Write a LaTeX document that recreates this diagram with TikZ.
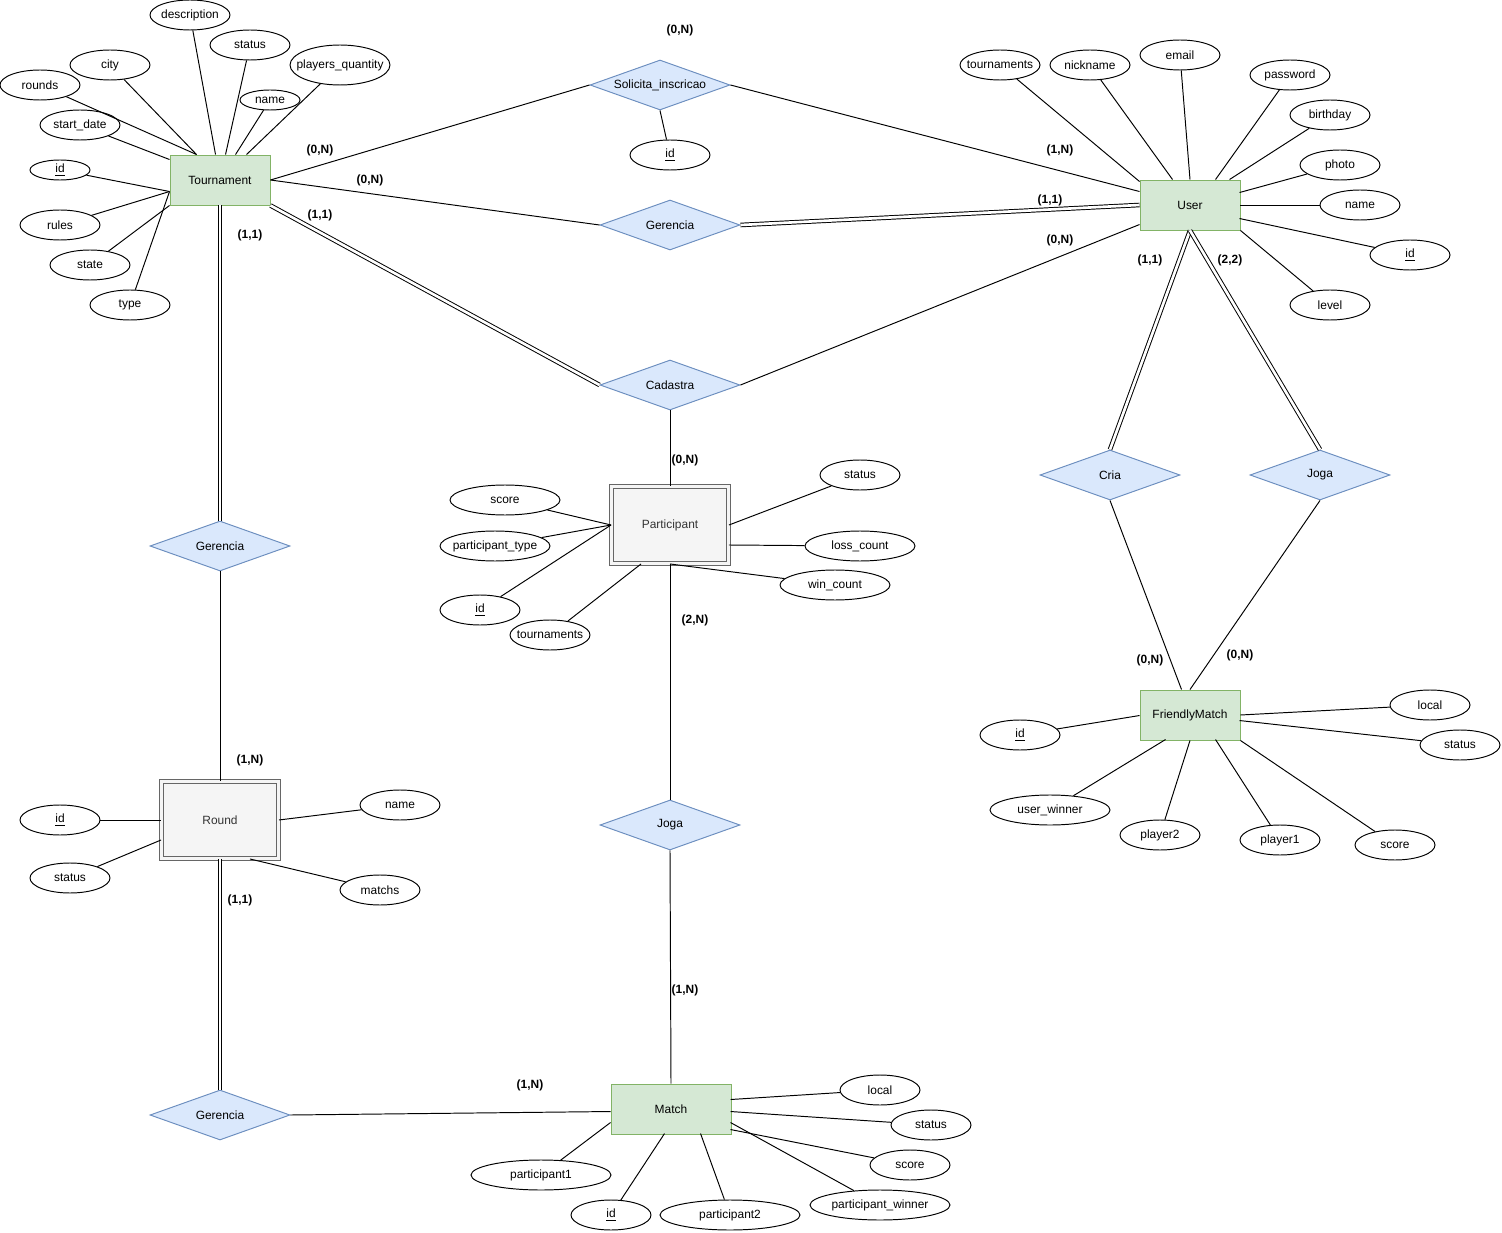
\documentclass[tikz,border=0pt]{standalone}
\usepackage{fontspec}
\setmainfont{Liberation Sans}
\usepackage{tikz}
\usetikzlibrary{shapes.geometric, calc}
\definecolor{entgreen}{HTML}{D5E8D4}
\definecolor{entline}{HTML}{82B366}
\definecolor{relblue}{HTML}{DAE8FC}
\definecolor{relline}{HTML}{6C8EBF}
\definecolor{weakgray}{HTML}{F5F5F5}
\definecolor{weakline}{HTML}{666666}
\definecolor{weaktext}{HTML}{333333}

\begin{document}
\begin{tikzpicture}[x=0.02cm, y=-0.02cm, line width=0.55pt,
			every node/.style={font=\fontsize{6.8}{8}\selectfont},
			ent/.style={draw=entline, fill=entgreen, minimum width=2cm, minimum height=1cm, inner sep=0pt},
			weak/.style={draw=weakline, double=weakgray, double distance=1.3pt, fill=weakgray, text=weaktext, minimum width=2.34cm, minimum height=1.54cm, inner sep=0pt},
			rel/.style={diamond, draw=relline, fill=relblue, aspect=2.8, minimum width=2.8cm, minimum height=1cm, inner sep=0pt},
			attr/.style={ellipse, draw, minimum width=1.6cm, minimum height=0.6cm, inner xsep=-6pt, inner ysep=-1pt},
			card/.style={font=\fontsize{6.8}{8}\selectfont\bfseries},
			lnk/.style={draw=black},
			dbl/.style={draw=black, double, double distance=1.5pt}]
			\useasboundingbox (0,0) rectangle (1502,1233);
			% entities
			\node[ent] (tour) at (220,180) {Tournament};
			\node[ent] (user) at (1190,205) {User};
			\node[ent] (fmatch) at (1190,715) {FriendlyMatch};
			\node[ent, minimum width=2.4cm] (match) at (671,1109) {Match};
			\node[weak] (part) at (670,525) {Participant};
			\node[weak] (round) at (220,820) {Round};
			% relationships
			\node[rel] (solicita) at (660,85) {Solicita\_inscricao};
			\node[rel] (gertop) at (670,225) {Gerencia};
			\node[rel] (cadastra) at (670,385) {Cadastra};
			\node[rel] (gerleft) at (220,546) {Gerencia};
			\node[rel] (cria) at (1110,475) {Cria};
			\node[rel] (jogar) at (1320,475) {Joga};
			\node[rel] (jogam) at (670,825) {Joga};
			\node[rel] (gerbot) at (220,1115) {Gerencia};
			% tournament attributes
			\node[attr] (tdesc) at (190,15) {description};
			\node[attr] (tstatus) at (250,45) {status};
			\node[attr] (tcity) at (110,65) {city};
			\node[attr] (trounds) at (40,85) {rounds};
			\node[attr, minimum width=2cm, minimum height=0.8cm] (tplayers) at (340,65) {players\_quantity};
			\node[attr, minimum width=1.2cm, minimum height=0.4cm] (tname) at (270,100) {name};
			\node[attr] (tstart) at (80,125) {start\_date};
			\node[attr, minimum width=1.2cm, minimum height=0.4cm] (tid) at (60,170) {\underline{id}};
			\node[attr] (trules) at (60,225) {rules};
			\node[attr] (tstate) at (90,265) {state};
			\node[attr] (ttype) at (130,305) {type};
			% solicita attribute
			\node[attr] (sid) at (670,155) {\underline{id}};
			% user attributes
			\node[attr] (utourn) at (1000,65) {tournaments};
			\node[attr] (unick) at (1090,65) {nickname};
			\node[attr] (uemail) at (1180,55) {email};
			\node[attr] (upass) at (1290,75) {password};
			\node[attr] (ubirth) at (1330,115) {birthday};
			\node[attr] (uphoto) at (1340,165) {photo};
			\node[attr] (uname) at (1360,205) {name};
			\node[attr] (uid) at (1410,255) {\underline{id}};
			\node[attr] (ulevel) at (1330,305) {level};
			% participant attributes
			\node[attr, minimum width=2.2cm] (pscore) at (505,500) {score};
			\node[attr, minimum width=2.2cm] (ptype) at (495,546) {participant\_type};
			\node[attr] (pid) at (480,610) {\underline{id}};
			\node[attr] (ptourn) at (550,635) {tournaments};
			\node[attr] (pstatus) at (860,475) {status};
			\node[attr, minimum width=2.2cm] (ploss) at (860,546) {loss\_count};
			\node[attr, minimum width=2.2cm] (pwin) at (835,585) {win\_count};
			% round attributes
			\node[attr] (rid) at (60,820) {\underline{id}};
			\node[attr] (rstatus) at (70,878) {status};
			\node[attr] (rname) at (400,805) {name};
			\node[attr] (rmatchs) at (380,890) {matchs};
			% friendly match attributes
			\node[attr] (flocal) at (1430,705) {local};
			\node[attr] (fstatus) at (1460,745) {status};
			\node[attr] (fid) at (1020,735) {\underline{id}};
			\node[attr, minimum width=2.4cm] (fwinner) at (1050,810) {user\_winner};
			\node[attr] (fp2) at (1160,835) {player2};
			\node[attr] (fp1) at (1280,840) {player1};
			\node[attr] (fscore) at (1395,845) {score};
			% match attributes
			\node[attr] (mlocal) at (880,1090) {local};
			\node[attr] (mstatus) at (931,1125) {status};
			\node[attr] (mscore) at (910,1165) {score};
			\node[attr, minimum width=2.8cm] (mwinner) at (880,1205) {participant\_winner};
			\node[attr, minimum width=2.8cm] (mp2) at (730,1215) {participant2};
			\node[attr] (mid) at (611,1215) {\underline{id}};
			\node[attr, minimum width=2.8cm] (mp1) at (541,1175) {participant1};
			% attribute links
			\draw[lnk] (tdesc) -- ($(tour.north west)+(46,0)$);
			\draw[lnk] (tstatus) -- ($(tour.north west)+(56,0)$);
			\draw[lnk] (tname) -- ($(tour.north west)+(66,0)$);
			\draw[lnk] (tplayers) -- ($(tour.north west)+(77,0)$);
			\draw[lnk] (tcity) -- ($(tour.north west)+(27,0)$);
			\draw[lnk] (trounds) -- ($(tour.north west)+(27,0)$);
			\draw[lnk] (tstart) -- ($(tour.north west)+(0,5)$);
			\draw[lnk] (tid) -- ($(tour.north west)+(0,37)$);
			\draw[lnk] (trules) -- ($(tour.north west)+(0,37)$);
			\draw[lnk] (tstate) -- (tour.south west);
			\draw[lnk] (ttype) -- ($(tour.north west)+(0,37)$);
			\draw[lnk] (sid) -- (solicita.south);
			\draw[lnk] (utourn) -- ($(user.north west)+(0,2)$);
			\draw[lnk] (unick) -- ($(user.north west)+(33,0)$);
			\draw[lnk] (uemail) -- (user.north);
			\draw[lnk] (upass) -- ($(user.north west)+(76,0)$);
			\draw[lnk] (ubirth) -- ($(user.north west)+(90,0)$);
			\draw[lnk] (uphoto) -- ($(user.north west)+(100,13)$);
			\draw[lnk] (uname) -- (user.east);
			\draw[lnk] (uid) -- ($(user.north west)+(100,39)$);
			\draw[lnk] (ulevel) -- (user.south east);
			\draw[lnk] (pscore) -- (part.west);
			\draw[lnk] (ptype) -- (part.west);
			\draw[lnk] (pid) -- (part.west);
			\draw[lnk] (ptourn) -- ($(part.south west)+(30,0)$);
			\draw[lnk] (pstatus) -- (part.east);
			\draw[lnk] (ploss) -- ($(part.east)+(0,20)$);
			\draw[lnk] (pwin) -- (part.south);
			\draw[lnk] (rid) -- (round.west);
			\draw[lnk] (rstatus) -- ($(round.west)+(0,20)$);
			\draw[lnk] (rname) -- (round.east);
			\draw[lnk] (rmatchs) -- ($(round.south)+(30,0)$);
			\draw[lnk] (flocal) -- (fmatch.east);
			\draw[lnk] (fstatus) -- ($(fmatch.north west)+(100,31)$);
			\draw[lnk] (fid) -- ($(fmatch.north west)+(0,26)$);
			\draw[lnk] (fwinner) -- ($(fmatch.north west)+(26,50)$);
			\draw[lnk] (fp2) -- (fmatch.south);
			\draw[lnk] (fp1) -- ($(fmatch.north west)+(76,50)$);
			\draw[lnk] (fscore) -- (fmatch.south east);
			\draw[lnk] (mlocal) -- ($(match.north west)+(120,16)$);
			\draw[lnk] (mstatus) -- ($(match.north west)+(120,28)$);
			\draw[lnk] (mscore) -- ($(match.north west)+(120,46)$);
			\draw[lnk] (mwinner) -- ($(match.north west)+(120,39)$);
			\draw[lnk] (mp2) -- ($(match.north west)+(90,50)$);
			\draw[lnk] (mid) -- ($(match.north west)+(54,50)$);
			\draw[lnk] (mp1) -- ($(match.north west)+(0,39)$);
			% relationship links
			\draw[lnk] (tour.east) -- (solicita.west);
			\draw[lnk] (solicita.east) -- ($(user.north west)+(0,12)$);
			\draw[lnk] (tour.east) -- (gertop.west);
			\draw[dbl] (gertop.east) -- (user.west);
			\draw[dbl] (tour.south east) -- (cadastra.west);
			\draw[lnk] (cadastra.east) -- ($(user.north west)+(0,45)$);
			\draw[dbl] (tour.south) -- (gerleft.north);
			\draw[lnk] (gerleft.south) -- (round.north);
			\draw[dbl] (round.south) -- (gerbot.north);
			\draw[lnk] (gerbot.east) -- ($(match.north west)+(0,28)$);
			\draw[lnk] (cadastra.south) -- (part.north);
			\draw[lnk] (part.south) -- (jogam.north);
			\draw[lnk] (jogam.south) -- (match.north);
			\draw[dbl] (user.south) -- (cria.north);
			\draw[dbl] (user.south) -- (jogar.north);
			\draw[lnk] (cria.south) -- ($(fmatch.north west)+(42,0)$);
			\draw[lnk] (jogar.south) -- (fmatch.north);
			% cardinalities
			\node[card] (c1) at (680,30) {(0,N)};
			\node[card] (c2) at (320,150) {(0,N)};
			\node[card] (c3) at (370,180) {(0,N)};
			\node[card] (c4) at (320,215) {(1,1)};
			\node[card] (c5) at (250,235) {(1,1)};
			\node[card] (c6) at (1060,150) {(1,N)};
			\node[card] (c7) at (1050,200) {(1,1)};
			\node[card] (c8) at (1060,240) {(0,N)};
			\node[card] (c9) at (1150,260) {(1,1)};
			\node[card] (c10) at (1230,260) {(2,2)};
			\node[card] (c11) at (685,460) {(0,N)};
			\node[card] (c12) at (695,620) {(2,N)};
			\node[card] (c13) at (250,760) {(1,N)};
			\node[card] (c14) at (240,900) {(1,1)};
			\node[card] (c15) at (685,990) {(1,N)};
			\node[card] (c16) at (530,1085) {(1,N)};
			\node[card] (c17) at (1150,660) {(0,N)};
			\node[card] (c18) at (1240,655) {(0,N)};
		\end{tikzpicture}
\end{document}
